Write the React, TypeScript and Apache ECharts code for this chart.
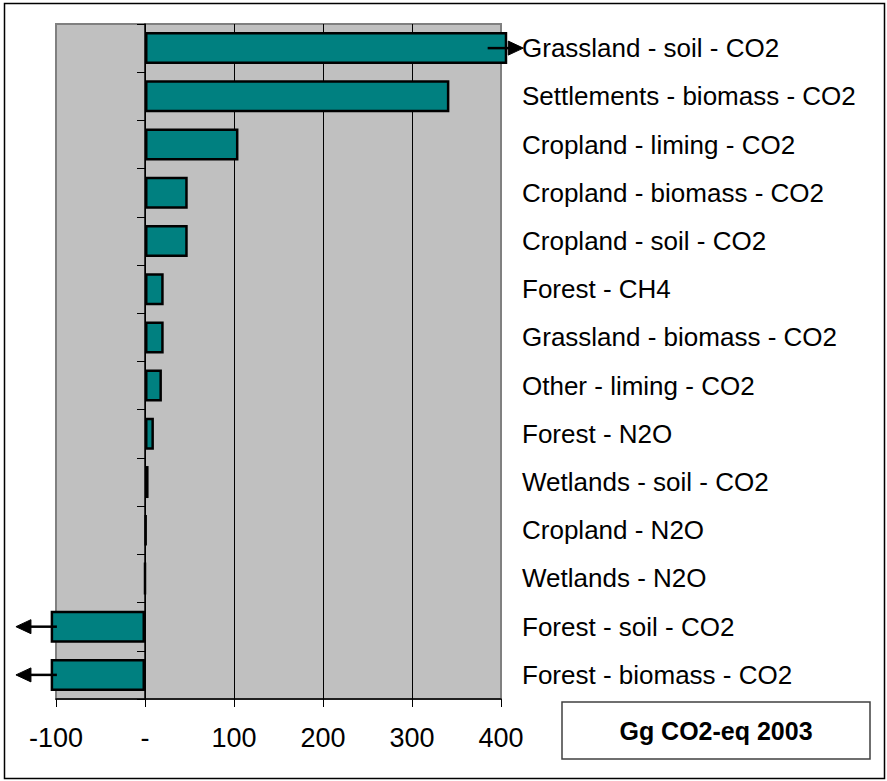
import React, { useEffect, useRef } from "react";
import * as echarts from "echarts";

const categories = [
  "Grassland - soil - CO2",
  "Settlements - biomass - CO2",
  "Cropland - liming - CO2",
  "Cropland - biomass - CO2",
  "Cropland - soil - CO2",
  "Forest - CH4",
  "Grassland - biomass - CO2",
  "Other - liming - CO2",
  "Forest - N2O",
  "Wetlands - soil - CO2",
  "Cropland - N2O",
  "Wetlands - N2O",
  "Forest - soil - CO2",
  "Forest - biomass - CO2",
];

// values as drawn (off-scale bars marked with arrows)
const values = [407, 342, 105, 48, 48, 21, 21, 19, 10, 4, 1.5, 0, -106, -106];

const xTickLabels = ["-100", "-", "100", "200", "300", "400"];

// off-scale arrows: category, start value, tip value
const arrowCats = ["Grassland - soil - CO2", "Forest - soil - CO2", "Forest - biomass - CO2"];
const arrowFrom = [385, -99, -99];
const arrowTo = [425, -145, -145];

const boxTitle = "Gg CO2-eq 2003";

const FONT = "'Liberation Sans', Arial, sans-serif";

export default function App() {
  const ref = useRef<HTMLDivElement>(null);

  useEffect(() => {
    document.body.style.margin = "0";
    const chart = echarts.init(ref.current!, null, { renderer: "svg" });
    const staticGraphics: any[] = [
      {
        type: "rect",
        shape: { x: 4.5, y: 3.5, width: 880, height: 775 },
        style: { fill: "none", stroke: "#000", lineWidth: 1.5 },
        silent: true,
      },
      {
        type: "rect",
        shape: { x: 562, y: 702, width: 308, height: 57 },
        style: { fill: "#fff", stroke: "#404040", lineWidth: 1.5 },
        silent: true,
      },
      {
        type: "text",
        x: 716,
        y: 731,
        style: {
          text: boxTitle,
          fill: "#000",
          font: `bold 25px ${FONT}`,
          textAlign: "center",
          textVerticalAlign: "middle",
        },
        silent: true,
      },
    ];
    chart.setOption({
      animation: false,
      backgroundColor: "#ffffff",
      grid: {
        left: 56,
        right: 386,
        top: 24,
        bottom: 82,
        show: true,
        backgroundColor: "#C0C0C0",
        borderColor: "#808080",
        borderWidth: 2,
      },
      xAxis: {
        type: "value",
        min: -100,
        max: 400,
        interval: 100,
        axisLine: { show: true, onZero: false, lineStyle: { color: "#000", width: 1.5 } },
        axisTick: { show: true, length: 8, lineStyle: { color: "#000", width: 1 } },
        axisLabel: {
          color: "#000",
          fontSize: 27,
          fontFamily: FONT,
          margin: 25,
          formatter: (_v: number, i: number) => xTickLabels[i],
        },
        splitLine: {
          show: true,
          showMinLine: false,
          showMaxLine: false,
          lineStyle: { color: "#000", width: 1 },
        },
      },
      yAxis: [
        {
          type: "category",
          data: categories,
          inverse: true,
          position: "left",
          axisLine: { show: true, onZero: true, lineStyle: { color: "#000", width: 1.5 } },
          axisTick: { show: true, length: 8, lineStyle: { color: "#000", width: 1 } },
          axisLabel: { show: false },
          splitLine: { show: false },
        },
        {
          type: "category",
          data: categories,
          inverse: true,
          position: "right",
          axisLine: { show: false },
          axisTick: { show: false },
          axisLabel: {
            show: true,
            color: "#000",
            fontSize: 26,
            fontFamily: FONT,
            margin: 21,
            align: "left",
          },
          splitLine: { show: false },
        },
      ],
      series: [
        {
          type: "bar",
          data: values,
          yAxisIndex: 0,
          barWidth: 32,
          clip: false,
          itemStyle: { color: "#008080", borderColor: "#000", borderWidth: 2.5 },
        },
      ],
      graphic: staticGraphics,
    });

    const arrows: any[] = [];
    arrowCats.forEach((c, i) => {
      const idx = categories.indexOf(c);
      const p1 = chart.convertToPixel({ xAxisIndex: 0, yAxisIndex: 0 }, [arrowFrom[i], idx]) as number[];
      const p2 = chart.convertToPixel({ xAxisIndex: 0, yAxisIndex: 0 }, [arrowTo[i], idx]) as number[];
      const dir = p2[0] > p1[0] ? 1 : -1;
      const headLen = 15;
      const headHalf = 7;
      arrows.push({
        type: "line",
        shape: { x1: p1[0], y1: p1[1], x2: p2[0] - dir * (headLen - 2), y2: p2[1] },
        style: { stroke: "#000", lineWidth: 2.5 },
        silent: true,
        z: 100,
      });
      arrows.push({
        type: "polygon",
        shape: {
          points: [
            [p2[0], p2[1]],
            [p2[0] - dir * headLen, p2[1] - headHalf],
            [p2[0] - dir * headLen, p2[1] + headHalf],
          ],
        },
        style: { fill: "#000", stroke: "#000", lineWidth: 1 },
        silent: true,
        z: 100,
      });
    });
    chart.setOption({ graphic: staticGraphics.concat(arrows) }, { replaceMerge: ["graphic"] });

    return () => chart.dispose();
  }, []);

  return <div ref={ref} style={{ width: 887, height: 781 }} />;
}
